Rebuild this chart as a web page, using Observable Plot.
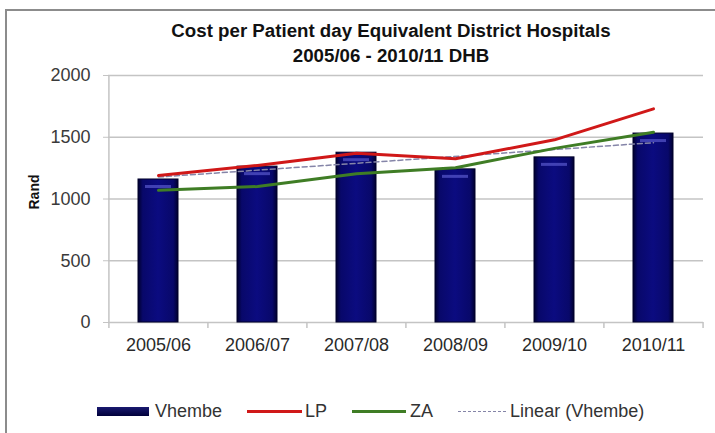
<!DOCTYPE html>
<html>
<head>
<meta charset="utf-8">
<script src="https://cdn.jsdelivr.net/npm/d3@7"></script>
<script src="https://cdn.jsdelivr.net/npm/@observablehq/plot@0.6"></script>
<style>
  html, body { margin: 0; padding: 0; background: #fff; width: 715px; height: 433px; overflow: hidden; }
  body { position: relative; font-family: "Liberation Sans", Arial, sans-serif; }
  #frame { position: absolute; left: 5px; top: 9px; width: 760px; height: 460px;
           border-left: 2px solid #8c8c8c; border-top: 2px solid #8c8c8c; }
  .title { position: absolute; left: 391px; transform: translateX(-50%); white-space: nowrap;
           font-weight: bold; font-size: 18.7px; line-height: 25px; color: #111; }
  #ylabel { position: absolute; left: 34px; top: 192px; transform: translate(-50%, -50%) rotate(-90deg);
            font-weight: bold; font-size: 14px; color: #111; white-space: nowrap; }
  #chart { position: absolute; left: 0; top: 0; }
  #legend { position: absolute; left: 97px; top: 399px; display: flex; align-items: center;
            font-size: 18px; color: #333; white-space: nowrap; height: 24px; }
  #legend .sw { display: inline-block; }
</style>
</head>
<body>
<div id="frame"></div>
<div id="chart"></div>
<div class="title" style="top:18px">Cost per Patient day Equivalent District Hospitals</div>
<div class="title" style="top:43px">2005/06 - 2010/11 DHB</div>
<div id="ylabel">Rand</div>
<div id="legend"></div>
<script>
// ---- data ----
const categories = ["2005/06", "2006/07", "2007/08", "2008/09", "2009/10", "2010/11"];
const vhembe = [1158, 1262, 1375, 1240, 1337, 1530];
const lp = [1190, 1272, 1370, 1326, 1479, 1730];
const za = [1070, 1101, 1204, 1253, 1410, 1541];
const trendCategories = ["2005/06", "2010/11"];
const trendValues = [1178, 1456];
const yTicks = [0, 500, 1000, 1500, 2000];
const seriesNames = ["Vhembe", "LP", "ZA", "Linear (Vhembe)"];

const bars = categories.map((c, i) => ({cat: c, value: vhembe[i]}));
const lpData = categories.map((c, i) => ({cat: c, value: lp[i]}));
const zaData = categories.map((c, i) => ({cat: c, value: za[i]}));
const trendData = trendCategories.map((c, i) => ({cat: c, value: trendValues[i]}));

const W = 715, H = 380, mL = 108, mR = 12, mT = 75, mB = 58;
const pInner = 0.6, pOuter = 0.3;
const step = (W - mL - mR) / (categories.length - pInner + 2 * pOuter);

const navy = "#0b0b80";
const red = "#d01818";
const green = "#3f7d25";
const trendColor = "#8585a8";
const gridColor = "#c4c4c4";

const plot = Plot.plot({
  width: W, height: H,
  marginLeft: mL, marginRight: mR, marginTop: mT, marginBottom: mB,
  style: {fontFamily: "Liberation Sans, Arial, sans-serif", background: "transparent", overflow: "visible"},
  x: {domain: categories, paddingInner: pInner, paddingOuter: pOuter, label: null},
  y: {domain: [0, 2000], label: null},
  marks: [
    Plot.ruleY(yTicks, {stroke: gridColor, strokeWidth: 1.5}),
    // y axis line at left boundary
    Plot.ruleX([categories[0]], {dx: -step / 2, y1: 0, y2: 2000, stroke: gridColor, strokeWidth: 1.5}),
    // x boundary ticks
    Plot.ruleX(categories, {dx: -step / 2, y1: 0, y2: 0, insetBottom: -6, stroke: gridColor, strokeWidth: 1.5}),
    Plot.ruleX([categories[categories.length - 1]], {dx: step / 2, y1: 0, y2: 0, insetBottom: -6, stroke: gridColor, strokeWidth: 1.5}),
    Plot.axisY({ticks: yTicks, tickFormat: d3.format("d"), tickSize: 5, tickPadding: 13, stroke: gridColor, fontSize: 18, fill: "#3a3a3a", label: null}),
    Plot.axisX({tickSize: 0, tickPadding: 16, fontSize: 18, fill: "#2a2a2a", label: null}),
    Plot.barY(bars, {x: "cat", y: "value", fill: "url(#barGrad)", stroke: "#00002a", strokeWidth: 1}),
    Plot.rect(bars, {x: "cat", y1: "value", y2: "value", insetTop: 6, insetBottom: -9, insetLeft: 7, insetRight: 7, fill: "#5858cc", fillOpacity: 0.7}),
    Plot.lineY(trendData, {x: "cat", y: "value", stroke: trendColor, strokeWidth: 1.5, strokeDasharray: "5,3"}),
    Plot.lineY(lpData, {x: "cat", y: "value", stroke: red, strokeWidth: 3}),
    Plot.lineY(zaData, {x: "cat", y: "value", stroke: green, strokeWidth: 3})
  ]
});

// gradient for the bars
const ns = "http://www.w3.org/2000/svg";
const defs = document.createElementNS(ns, "defs");
const grad = document.createElementNS(ns, "linearGradient");
grad.setAttribute("id", "barGrad");
grad.setAttribute("x1", "0"); grad.setAttribute("x2", "1"); grad.setAttribute("y1", "0"); grad.setAttribute("y2", "0");
[["0%", "#00002e"], ["12%", "#08086a"], ["50%", navy], ["88%", "#08086a"], ["100%", "#00002e"]].forEach(([o, c]) => {
  const s = document.createElementNS(ns, "stop");
  s.setAttribute("offset", o); s.setAttribute("stop-color", c);
  grad.appendChild(s);
});
defs.appendChild(grad);
plot.insertBefore(defs, plot.firstChild);
document.getElementById("chart").appendChild(plot);

// legend
const legend = document.getElementById("legend");
const swatches = [
  `<span class="sw" style="width:52px;height:9px;background:linear-gradient(#1a1a70,#00003a);margin-right:6px"></span>`,
  `<span class="sw" style="width:55px;height:3px;background:${red};margin-left:25px;margin-right:3px"></span>`,
  `<span class="sw" style="width:54px;height:3px;background:${green};margin-left:25px;margin-right:4px"></span>`,
  `<span class="sw" style="width:48px;height:0;border-top:1.5px dashed ${trendColor};margin-left:25px;margin-right:4px"></span>`
];
legend.innerHTML = seriesNames.map((n, i) => swatches[i] + `<span>${n}</span>`).join("");
</script>
</body>
</html>
